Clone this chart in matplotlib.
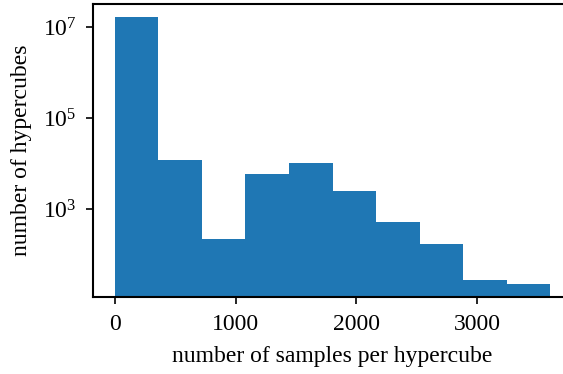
import numpy as np
import matplotlib
matplotlib.use("Agg")
import matplotlib.pyplot as plt

plt.rcParams['font.family'] = ['Liberation Serif', 'DejaVu Serif']
plt.rcParams['mathtext.fontset'] = 'stix'

# Histogram data
max_samples = 3606
n_bins = 10
counts = [1.66e7, 1.2e4, 218, 5.9e3, 1.03e4, 2.5e3, 520, 172, 27.5, 22]
y_ticks = [1e3, 1e5, 1e7]
x_ticks = [0, 1000, 2000, 3000]

edges = np.linspace(0, max_samples, n_bins + 1)

fig = plt.figure(figsize=(5.63, 3.74), dpi=100)
W, H = 563, 374
ax = fig.add_axes([93 / W, (H - 297) / H, (572 - 93) / W, (297 - 4) / H])

ax.hist(edges[:-1], bins=edges, weights=counts, color='#1f77b4', log=True)
ax.set_yscale('log')
ax.set_xlim(-180, 3786)
ax.set_ylim(11.6, 3.2e7)
ax.set_yticks(y_ticks)
ax.minorticks_off()
ax.set_xticks(x_ticks)

for s in ax.spines.values():
    s.set_linewidth(1.5)
ax.tick_params(direction='out', length=5, width=1.2, labelsize=17, pad=7)
ax.set_xlabel('number of samples per hypercube', fontsize=17, labelpad=8)
ax.set_ylabel('number of hypercubes', fontsize=17, labelpad=8)

fig.savefig('out.png', dpi=100)
